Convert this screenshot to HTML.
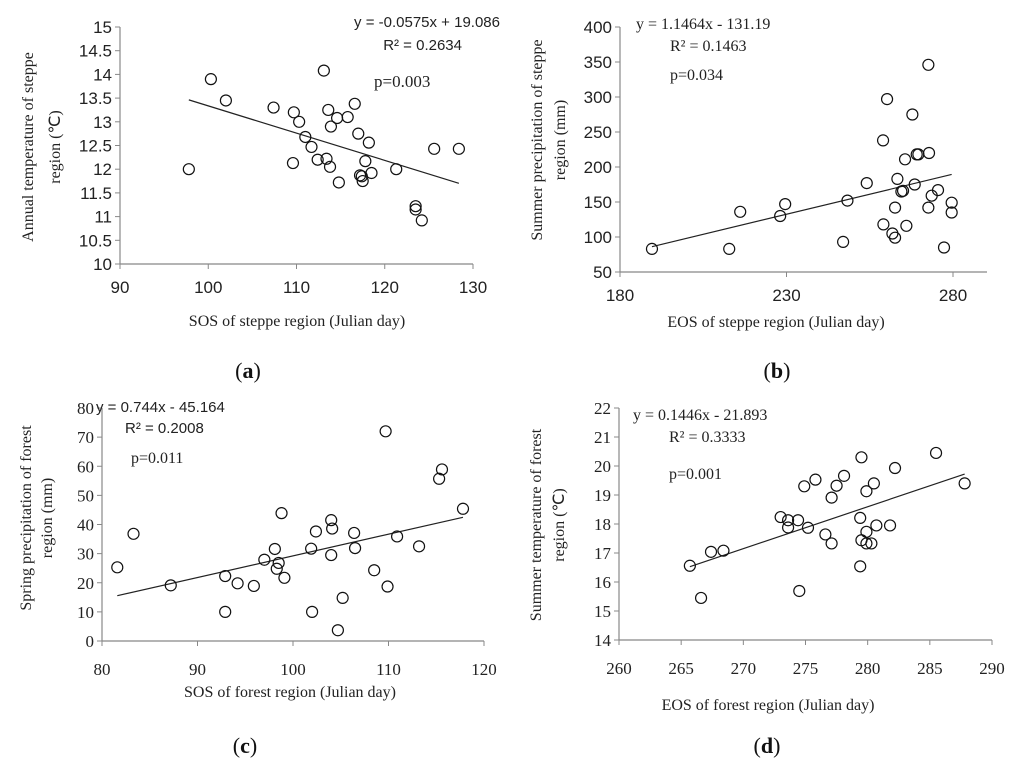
<!DOCTYPE html>
<html><head><meta charset="utf-8">
<style>
html,body{margin:0;padding:0;background:#fff;}
svg{display:block;}
.sans{font-family:"Liberation Sans",sans-serif;}
.serif{font-family:"Liberation Serif",serif;}
</style></head>
<body>
<svg id="fig" width="1024" height="777" viewBox="0 0 1024 777" xmlns="http://www.w3.org/2000/svg"></svg>
<script>
// Panel (a)
const aX=[97.8,100.3,102,107.4,109.7,110.3,111,111.7,112.4,109.6,113.1,113.4,113.6,113.8,113.9,114.6,114.8,115.8,116.6,117,117.2,117.5,117.8,118.2,118.5,121.3,123.5,123.5,124.2,125.6,128.4,117.4];
const aY=[12.0,13.9,13.45,13.3,13.2,13.0,12.68,12.47,12.2,12.13,14.08,12.22,13.25,12.05,12.9,13.08,11.72,13.1,13.38,12.75,11.87,11.75,12.17,12.56,11.92,12.0,11.22,11.15,10.92,12.43,12.43,11.85];
const aXTicks=[90,100,110,120,130];
const aYTicks=[10,10.5,11,11.5,12,12.5,13,13.5,14,14.5,15];
// Panel (b)
const bX=[189.6,212.8,216.1,228.1,229.6,247,248.3,254.1,259,260.2,259.1,261.8,262.6,262.6,263.3,264.5,265,265.6,266,267.8,268.5,269.1,269.6,272.6,272.8,272.6,273.6,275.5,277.3,279.6,279.6];
const bY=[83,83,136,130,147,93,152,177,238,297,118,105,99,142,183,165,166,211,116,275,175,218,218,142,220,346,159,167,85,149,135];
const bXTicks=[180,230,280];
const bYTicks=[50,100,150,200,250,300,350,400];
// Panel (c)
const cX=[81.6,83.3,87.2,92.9,92.9,94.2,95.9,97,98.1,98.3,98.5,98.8,99.1,101.9,102,102.4,104,104,104.1,104.7,105.2,106.4,106.5,108.5,109.7,109.9,110.9,113.2,115.3,115.6,117.8];
const cY=[25.3,36.8,19.1,22.3,10,19.8,18.9,27.9,31.6,24.8,26.8,43.9,21.7,31.7,10,37.6,41.5,29.5,38.6,3.7,14.8,37.1,31.9,24.3,72,18.7,35.9,32.5,55.7,58.9,45.4];
const cXTicks=[80,90,100,110,120];
const cYTicks=[0,10,20,30,40,50,60,70,80];
// Panel (d)
const dX=[265.7,266.6,267.4,268.4,273.0,273.6,273.6,274.4,274.5,274.9,275.2,275.8,276.6,277.1,277.1,277.5,278.1,279.4,279.4,279.5,279.5,279.9,279.9,279.9,280.3,280.5,280.7,281.8,282.2,285.5,287.8];
const dY=[16.56,15.45,17.04,17.08,18.24,18.13,17.88,18.13,15.69,19.3,17.87,19.53,17.64,17.33,18.91,19.32,19.66,16.54,18.21,20.3,17.44,17.73,17.33,19.13,17.33,19.4,17.95,17.95,19.93,20.45,19.4];
const dXTicks=[260,265,270,275,280,285,290];
const dYTicks=[14,15,16,17,18,19,20,21,22];

const NS="http://www.w3.org/2000/svg";
const svg=document.getElementById('fig');
function mk(tag,attrs,parent,text){const e=document.createElementNS(NS,tag);for(const k in attrs)e.setAttribute(k,attrs[k]);if(text!==undefined)e.textContent=text;(parent||svg).appendChild(e);return e;}

function panel(o){
  const g=mk('g',{});
  
  
  const sx=v=>o.x0+(v-o.xmin)/(o.xmax-o.xmin)*(o.x1-o.x0);
  const sy=v=>o.y1-(v-o.ymin)/(o.ymax-o.ymin)*(o.y1-o.y0);
  const ax=mk('line',{x1:o.x0,y1:o.y1,x2:o.xend,y2:o.y1,stroke:'#888','stroke-width':1.2},g);
  
  const ay=mk('line',{x1:o.x0,y1:o.y0,x2:o.x0,y2:o.y1,stroke:'#888','stroke-width':1.2},g);
  
  o.xt.forEach(v=>{const x=sx(v);
    mk('line',{x1:x,y1:o.y1,x2:x,y2:o.y1+5,stroke:'#888'},g);
    const t=mk('text',{x:x,y:o.y1+o.xlo,'text-anchor':'middle','font-size':17,class:o.tf,fill:'#222'},g,String(v));
    });
  o.yt.forEach(v=>{const y=sy(v);
    mk('line',{x1:o.x0-5,y1:y,x2:o.x0,y2:y,stroke:'#888'},g);
    const t=mk('text',{x:o.x0-8,y:y+6,'text-anchor':'end','font-size':17,class:o.tf,fill:'#222'},g,String(v));
    });
  const xs=o.X, lo=Math.min(...xs), hi=Math.max(...xs);
  const tl=mk('line',{x1:sx(lo),y1:sy(o.m*lo+o.b),x2:sx(hi),y2:sy(o.m*hi+o.b),stroke:'#222','stroke-width':1.2},g);
  
  o.X.forEach((v,i)=>{
    const c=mk('circle',{cx:sx(v),cy:sy(o.Y[i]),r:5.5,fill:'none',stroke:'#111','stroke-width':1.2},g);
    
    
  });
  return g;
}
panel({id:'a',X:aX,Y:aY,xt:aXTicks,yt:aYTicks,xmin:90,xmax:130,ymin:10,ymax:15,x0:120,x1:473,xend:473,y0:27,y1:264,m:-0.0575,b:19.086,tf:'sans',xlo:29});
panel({id:'b',X:bX,Y:bY,xt:bXTicks,yt:bYTicks,xmin:180,xmax:280,ymin:50,ymax:400,x0:620,x1:953,xend:987,y0:27,y1:272,m:1.1464,b:-131.19,tf:'sans',xlo:29});
panel({id:'c',X:cX,Y:cY,xt:cXTicks,yt:cYTicks,xmin:80,xmax:120,ymin:0,ymax:80,x0:102,x1:484,xend:484,y0:408,y1:641,m:0.744,b:-45.164,tf:'serif',xlo:34});
panel({id:'d',X:dX,Y:dY,xt:dXTicks,yt:dYTicks,xmin:260,xmax:290,ymin:14,ymax:22,x0:619,x1:992,xend:992,y0:408,y1:640,m:0.1446,b:-21.893,tf:'serif',xlo:34});

function txt(x,y,s,cls,size,name,anchor,rot){
  const a={x:x,y:y,'font-size':size,class:cls,fill:'#222','text-anchor':anchor||'start'};
  if(rot)a.transform='rotate(-90 '+x+' '+y+')';
  const t=mk('text',a,svg,s);
  
  
  return t;
}
txt(500,27,'y = -0.0575x + 19.086','sans',15,'equation-a','end');
txt(462,50,'R² = 0.2634','sans',15,'r-squared-a','end');
txt(374,87,'p=0.003','serif',17,'p-value-a');
txt(636,29,'y = 1.1464x - 131.19','serif',16,'equation-b');
txt(670,51,'R² = 0.1463','serif',16,'r-squared-b');
txt(670,80,'p=0.034','serif',16,'p-value-b');
txt(96,412,'y = 0.744x - 45.164','sans',15,'equation-c');
txt(125,433,'R² = 0.2008','sans',15,'r-squared-c');
txt(131,463,'p=0.011','serif',16,'p-value-c');
txt(633,420,'y = 0.1446x - 21.893','serif',16,'equation-d');
txt(669,442,'R² = 0.3333','serif',16,'r-squared-d');
txt(669,479,'p=0.001','serif',16,'p-value-d');
txt(297,326,'SOS of steppe region (Julian day)','serif',16,'x-axis-title-a','middle');
txt(776,327,'EOS of steppe region (Julian day)','serif',16,'x-axis-title-b','middle');
txt(290,697,'SOS of forest region (Julian day)','serif',16,'x-axis-title-c','middle');
txt(768,710,'EOS of forest region (Julian day)','serif',16,'x-axis-title-d','middle');
txt(33,147,'Annual temperature of steppe','serif',16,'y-axis-title-a','middle',true);
txt(60,147,'region (℃)','serif',16,'y-axis-title-a2','middle',true);
txt(542,140,'Summer precipitation of steppe','serif',16,'y-axis-title-b','middle',true);
txt(565,140,'region (mm)','serif',16,'y-axis-title-b2','middle',true);
txt(31,518,'Spring precipitation of forest','serif',16,'y-axis-title-c','middle',true);
txt(52,518,'region (mm)','serif',16,'y-axis-title-c2','middle',true);
txt(541,525,'Summer temperature of forest','serif',16,'y-axis-title-d','middle',true);
txt(564,525,'region (℃)','serif',16,'y-axis-title-d2','middle',true);
[['a',248,378],['b',777,378],['c',245,753],['d',767,753]].forEach(p=>{
  const t=mk('text',{x:p[1],y:p[2],'font-size':22,class:'serif',fill:'#111','text-anchor':'middle'},svg);
  
  
  mk('tspan',{},t,'(');
  mk('tspan',{'font-weight':'bold'},t,p[0]);
  mk('tspan',{},t,')');
});
</script>
</body></html>
